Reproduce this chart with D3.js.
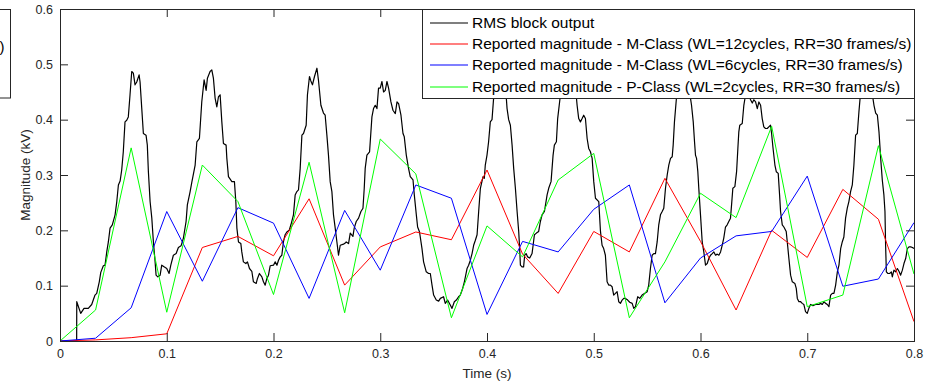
<!DOCTYPE html>
<html>
<head>
<meta charset="utf-8">
<script src="https://cdn.jsdelivr.net/npm/d3@7/dist/d3.min.js"></script>
<style>
  html, body { margin: 0; padding: 0; background: #fff; }
  svg { display: block; }
  text { font-family: "Liberation Sans", Arial, Helvetica, sans-serif; }
</style>
</head>
<body>
<svg id="chart" width="934" height="381"></svg>
<script>
// ---- data -------------------------------------------------------------
// Time axis and value axis ticks
const xTicks = [0, 0.1, 0.2, 0.3, 0.4, 0.5, 0.6, 0.7, 0.8];
const xTickLabels = ["0", "0.1", "0.2", "0.3", "0.4", "0.5", "0.6", "0.7", "0.8"];
const yTicks = [0, 0.1, 0.2, 0.3, 0.4, 0.5, 0.6];
const yTickLabels = ["0", "0.1", "0.2", "0.3", "0.4", "0.5", "0.6"];

// Reporting instants (30 frames/s)
const reportTime = [0, 1/30, 2/30, 3/30, 4/30, 5/30, 6/30, 7/30, 8/30, 9/30, 10/30, 11/30,
  12/30, 13/30, 14/30, 15/30, 16/30, 17/30, 18/30, 19/30, 20/30, 21/30, 22/30, 23/30, 24/30];

// Reported magnitudes (kV)
const mClass12 = [0, 0.002, 0.006, 0.013, 0.169, 0.189, 0.154, 0.257, 0.101, 0.170, 0.197, 0.183,
  0.309, 0.157, 0.086, 0.198, 0.161, 0.294, 0.180, 0.056, 0.200, 0.151, 0.274, 0.220, 0.035];
const mClass6 = [0, 0.005, 0.060, 0.234, 0.108, 0.241, 0.213, 0.077, 0.236, 0.128, 0.282, 0.258,
  0.048, 0.180, 0.161, 0.238, 0.282, 0.069, 0.150, 0.190, 0.198, 0.298, 0.099, 0.112, 0.214];
const pClass2 = [0, 0.056, 0.349, 0.052, 0.318, 0.252, 0.084, 0.323, 0.051, 0.365, 0.302, 0.042,
  0.208, 0.152, 0.291, 0.339, 0.042, 0.143, 0.267, 0.223, 0.388, 0.062, 0.083, 0.353, 0.121];

// RMS block output [time (s), magnitude (kV)]
const rmsOutput = [
  [0,0],[0.0156,0],[0.0157,0.071],[0.0194,0.050],[0.0225,0.059],[0.0265,0.059],[0.0297,0.066],
  [0.0328,0.083],[0.0344,0.086],[0.0368,0.107],[0.0382,0.124],[0.0406,0.136],[0.0422,0.137],
  [0.0438,0.161],[0.0453,0.179],[0.0469,0.204],[0.0490,0.210],[0.0516,0.228],[0.0532,0.252],
  [0.0547,0.282],[0.0563,0.289],[0.0578,0.309],[0.0593,0.342],[0.0609,0.396],[0.0625,0.399],
  [0.0640,0.405],[0.0656,0.445],[0.0672,0.487],[0.0687,0.484],[0.0703,0.463],[0.0719,0.468],
  [0.0741,0.481],[0.0750,0.468],[0.0766,0.420],[0.0781,0.375],[0.0806,0.372],[0.0818,0.354],
  [0.0828,0.306],[0.0844,0.252],[0.0860,0.222],[0.0875,0.179],[0.0891,0.143],[0.0900,0.119],
  [0.0916,0.116],[0.0938,0.119],[0.0953,0.137],[0.0975,0.134],[0.1000,0.131],[0.1022,0.122],
  [0.1038,0.137],[0.1062,0.155],[0.1088,0.158],[0.1109,0.169],[0.1134,0.172],[0.1156,0.186],
  [0.1181,0.216],[0.1193,0.246],[0.1219,0.270],[0.1235,0.287],[0.1266,0.318],[0.1282,0.360],
  [0.1306,0.366],
  [0.1328,0.432],[0.1350,0.472],[0.1369,0.453],[0.1381,0.475],[0.1406,0.487],[0.1422,0.490],
  [0.1437,0.475],[0.1453,0.439],[0.1469,0.423],[0.1484,0.441],[0.1500,0.445],[0.1516,0.396],
  [0.1531,0.357],[0.1556,0.354],[0.1563,0.330],[0.1578,0.297],[0.1610,0.288],[0.1634,0.288],
  [0.1647,0.252],[0.1657,0.204],[0.1672,0.179],[0.1694,0.176],[0.1703,0.161],[0.1718,0.143],
  [0.1741,0.140],[0.1756,0.143],[0.1775,0.131],[0.1797,0.126],[0.1812,0.107],[0.1838,0.104],
  [0.1850,0.113],[0.1868,0.122],[0.1891,0.116],[0.1906,0.107],[0.1922,0.101],[0.1938,0.113],
  [0.1953,0.119],[0.1969,0.136],[0.2000,0.137],[0.2016,0.143],[0.2032,0.137],[0.2047,0.146],
  [0.2063,0.152],[0.2078,0.155],[0.2093,0.179],[0.2109,0.192],[0.2125,0.197],[0.2147,0.200],
  [0.2163,0.210],[0.2187,0.228],[0.2203,0.264],[0.2219,0.270],[0.2234,0.273],[0.2250,0.312],
  [0.2266,0.372],[0.2281,0.375],[0.2306,0.390],[0.2318,0.445],[0.2337,0.478],[0.2350,0.470],
  [0.2365,0.463],[0.2384,0.478],[0.2407,0.493],[0.2422,0.470],[0.2444,0.426],[0.2468,0.412],
  [0.2484,0.408],[0.2500,0.372],[0.2515,0.336],[0.2531,0.288],[0.2547,0.270],[0.2562,0.228],
  [0.2578,0.204],[0.2594,0.179],[0.2609,0.155],[0.2625,0.173],[0.2656,0.175],[0.2672,0.177],
  [0.2681,0.179],[0.2703,0.176],[0.2719,0.195],[0.2744,0.189],[0.2756,0.204],[0.2775,0.216],
  [0.2797,0.222],[0.2819,0.234],[0.2838,0.240],[0.2850,0.276],[0.2859,0.312],[0.2875,0.336],
  [0.2900,0.342],[0.2922,0.405],[0.2937,0.420],[0.2953,0.426],[0.2969,0.420],[0.2984,0.457],
  [0.3000,0.457],[0.3016,0.469],[0.3031,0.450],[0.3047,0.453],[0.3063,0.469],[0.3078,0.457],
  [0.3100,0.432],[0.3119,0.417],[0.3141,0.411],[0.3157,0.432],[0.3172,0.429],[0.3194,0.408],
  [0.3213,0.375],[0.3225,0.369],[0.3244,0.336],[0.3265,0.312],[0.3281,0.297],[0.3307,0.291],
  [0.3319,0.264],[0.3338,0.228],[0.3350,0.206],[0.3368,0.197],[0.3391,0.167],[0.3406,0.143],
  [0.3431,0.125],[0.3453,0.122],[0.3469,0.122],[0.3485,0.101],[0.3500,0.083],[0.3525,0.074],
  [0.3547,0.072],[0.3563,0.077],[0.3593,0.080],[0.3609,0.068],[0.3631,0.074],[0.3656,0.065],
  [0.3672,0.059],[0.3694,0.071],[0.3713,0.074],[0.3734,0.080],[0.3750,0.083],[0.3772,0.095],
  [0.3788,0.107],[0.3813,0.131],[0.3828,0.137],[0.3844,0.146],[0.3860,0.158],[0.3875,0.173],
  [0.3891,0.182],[0.3907,0.192],[0.3922,0.234],[0.3938,0.276],[0.3963,0.297],[0.3975,0.294],
  [0.3984,0.318],
  [0.4000,0.336],[0.4015,0.360],[0.4031,0.396],[0.4047,0.400],[0.4062,0.439],[0.4088,0.470],
  [0.4111,0.490],[0.4130,0.470],[0.4148,0.480],[0.4172,0.450],[0.4181,0.439],[0.4188,0.420],
  [0.4203,0.400],[0.4219,0.390],[0.4235,0.354],[0.4250,0.312],[0.4266,0.276],[0.4282,0.234],
  [0.4297,0.198],[0.4306,0.167],[0.4313,0.137],[0.4328,0.134],[0.4343,0.134],[0.4353,0.155],
  [0.4366,0.158],[0.4381,0.152],[0.4400,0.150],[0.4422,0.158],[0.4432,0.173],[0.4444,0.192],
  [0.4463,0.195],[0.4484,0.198],[0.4500,0.216],[0.4516,0.228],[0.4538,0.234],[0.4563,0.264],
  [0.4578,0.276],[0.4600,0.288],[0.4619,0.336],[0.4631,0.354],[0.4650,0.360],[0.4662,0.402],
  [0.4688,0.445],[0.4716,0.455],[0.4744,0.440],[0.4772,0.455],[0.4800,0.445],[0.4828,0.450],
  [0.4838,0.439],[0.4844,0.426],[0.4859,0.402],[0.4875,0.396],[0.4891,0.402],[0.4906,0.408],
  [0.4922,0.402],[0.4938,0.366],[0.4953,0.348],[0.4969,0.342],[0.4985,0.330],[0.5000,0.288],
  [0.5016,0.258],[0.5047,0.252],[0.5063,0.198],[0.5078,0.173],[0.5093,0.167],[0.5109,0.155],
  [0.5125,0.107],[0.5140,0.101],[0.5156,0.101],[0.5172,0.098],[0.5187,0.083],[0.5203,0.086],
  [0.5219,0.089],[0.5234,0.071],[0.5250,0.068],[0.5266,0.074],[0.5281,0.077],
  [0.5297,0.077],[0.5318,0.074],[0.5337,0.070],[0.5360,0.068],[0.5375,0.059],[0.5391,0.062],
  [0.5412,0.080],[0.5431,0.077],[0.5453,0.083],[0.5475,0.086],[0.5500,0.089],[0.5515,0.101],
  [0.5531,0.131],[0.5547,0.155],[0.5562,0.158],[0.5578,0.158],[0.5594,0.179],[0.5609,0.210],
  [0.5625,0.228],[0.5641,0.234],[0.5656,0.240],[0.5672,0.276],[0.5688,0.300],[0.5703,0.318],
  [0.5719,0.330],[0.5735,0.333],[0.5744,0.354],[0.5756,0.396],[0.5775,0.440],[0.5794,0.470],
  [0.5813,0.490],[0.5831,0.475],[0.5850,0.485],[0.5869,0.470],[0.5888,0.450],[0.5906,0.439],
  [0.5916,0.426],[0.5932,0.396],[0.5944,0.360],[0.5953,0.336],[0.5963,0.330],[0.5975,0.306],
  [0.5984,0.276],[0.6000,0.228],[0.6016,0.179],[0.6031,0.161],[0.6047,0.137],[0.6063,0.140],
  [0.6078,0.149],[0.6094,0.155],[0.6110,0.158],[0.6125,0.161],[0.6141,0.155],[0.6157,0.157],
  [0.6172,0.155],[0.6188,0.161],[0.6203,0.173],[0.6218,0.186],[0.6234,0.206],[0.6250,0.210],
  [0.6265,0.216],[0.6281,0.222],[0.6291,0.246],[0.6303,0.276],[0.6322,0.279],[0.6338,0.306],
  [0.6350,0.348],[0.6359,0.378],[0.6368,0.390],[0.6391,0.393],[0.6406,0.426],[0.6422,0.445],
  [0.6441,0.450],[0.6469,0.436],[0.6485,0.430],[0.6500,0.436],[0.6516,0.432],[0.6532,0.420],
  [0.6547,0.432],[0.6563,0.426],[0.6578,0.402],[0.6593,0.387],[0.6609,0.384],
  [0.6625,0.384],[0.6640,0.387],[0.6656,0.390],[0.6666,0.375],[0.6678,0.351],[0.6697,0.318],
  [0.6710,0.306],[0.6728,0.303],[0.6741,0.264],[0.6750,0.234],[0.6766,0.210],[0.6781,0.206],
  [0.6803,0.198],[0.6813,0.179],[0.6828,0.149],[0.6844,0.119],[0.6860,0.107],[0.6884,0.104],
  [0.6897,0.095],[0.6907,0.077],[0.6922,0.071],[0.6938,0.071],[0.6953,0.068],[0.6968,0.066],
  [0.6984,0.053],[0.7000,0.050],[0.7015,0.059],[0.7031,0.066],[0.7053,0.064],[0.7078,0.066],
  [0.7109,0.066],[0.7125,0.068],[0.7141,0.066],[0.7156,0.071],[0.7172,0.068],[0.7188,0.066],
  [0.7203,0.062],[0.7219,0.083],[0.7235,0.086],[0.7250,0.086],[0.7266,0.101],[0.7282,0.125],
  [0.7297,0.137],[0.7313,0.167],[0.7328,0.179],[0.7343,0.188],[0.7359,0.222],[0.7375,0.240],
  [0.7390,0.252],[0.7406,0.270],[0.7422,0.282],[0.7437,0.318],[0.7453,0.372],[0.7469,0.375],
  [0.7484,0.414],[0.7500,0.450],[0.7519,0.480],[0.7538,0.490],[0.7556,0.470],[0.7575,0.480],
  [0.7594,0.450],[0.7615,0.439],[0.7625,0.426],[0.7641,0.412],[0.7657,0.408],[0.7672,0.378],
  [0.7688,0.330],[0.7703,0.291],[0.7718,0.264],[0.7728,0.234],[0.7734,0.173],[0.7741,0.125],
  [0.7756,0.122],[0.7772,0.122],[0.7788,0.125],[0.7797,0.116],[0.7812,0.128],[0.7828,0.125],
  [0.7844,0.131],[0.7859,0.126],[0.7875,0.119],[0.7891,0.128],[0.7906,0.140],[0.7922,0.149],
  [0.7938,0.167],[0.7953,0.170],[0.7969,0.170],[0.7985,0.169],[0.8000,0.167]
];

const legendLabels = [
  "RMS block output",
  "Reported magnitude - M-Class (WL=12cycles, RR=30 frames/s)",
  "Reported magnitude - M-Class (WL=6cycles, RR=30 frames/s)",
  "Reported magnitude - P-Class (WL=2cycles, RR=30 frames/s)"
];
const seriesColors = ["#000000", "#ff0000", "#0000ff", "#00ff00"];

// ---- layout -----------------------------------------------------------
const plot = { left: 60, right: 914, top: 9, bottom: 341 };
const axisColor = "#262626";
const tickLen = 8;

const svg = d3.select("#chart");

const x = d3.scaleLinear().domain([0, 0.8]).range([plot.left, plot.right]);
const y = d3.scaleLinear().domain([0, 0.6]).range([plot.bottom, plot.top]);

// Clipped legend of a neighbouring axes at the far left
svg.append("rect")
  .attr("x", -40.5).attr("y", 9.5).attr("width", 51).attr("height", 88.5)
  .attr("fill", "#fff").attr("stroke", axisColor).attr("stroke-width", 1);
svg.append("text")
  .attr("x", 4.5).attr("y", 47).attr("dy", "0.35em")
  .attr("text-anchor", "end").attr("font-size", 15).attr("fill", "#000")
  .text(")");

// clip region for the data
svg.append("defs").append("clipPath").attr("id", "plotClip")
  .append("rect")
  .attr("x", plot.left).attr("y", plot.top)
  .attr("width", plot.right - plot.left).attr("height", plot.bottom - plot.top);

// ---- series -----------------------------------------------------------
const line = d3.line().x(d => x(d[0])).y(d => y(d[1]));
const seriesData = [
  rmsOutput,
  reportTime.map((t, i) => [t, mClass12[i]]),
  reportTime.map((t, i) => [t, mClass6[i]]),
  reportTime.map((t, i) => [t, pClass2[i]])
];

const gLines = svg.append("g").attr("clip-path", "url(#plotClip)");
seriesData.forEach((data, i) => {
  gLines.append("path")
    .datum(data)
    .attr("fill", "none")
    .attr("stroke", seriesColors[i])
    .attr("stroke-width", i === 0 ? 1.2 : 1)
    .attr("stroke-linejoin", "round")
    .attr("d", line);
});

// ---- axes (boxed, ticks pointing inward) ------------------------------
function styleAxis(g) {
  g.selectAll("path.domain").attr("stroke", axisColor).attr("stroke-width", 1);
  g.selectAll(".tick line").attr("stroke", axisColor).attr("stroke-width", 1);
  g.selectAll(".tick text").attr("fill", axisColor)
    .attr("font-family", '"Liberation Sans", Arial, Helvetica, sans-serif')
    .attr("font-size", 12.5);
}

svg.append("g")
  .attr("transform", `translate(0,${plot.bottom})`)
  .call(d3.axisBottom(x).tickValues(xTicks).tickFormat((d, i) => xTickLabels[i])
    .tickSizeInner(-tickLen).tickSizeOuter(0).tickPadding(8))
  .call(styleAxis);

svg.append("g")
  .attr("transform", `translate(0,${plot.top})`)
  .call(d3.axisTop(x).tickValues(xTicks).tickFormat("")
    .tickSizeInner(-tickLen).tickSizeOuter(0))
  .call(styleAxis);

svg.append("g")
  .attr("transform", `translate(${plot.left},0)`)
  .call(d3.axisLeft(y).tickValues(yTicks).tickFormat((d, i) => yTickLabels[i])
    .tickSizeInner(-tickLen).tickSizeOuter(0).tickPadding(7))
  .call(styleAxis);

svg.append("g")
  .attr("transform", `translate(${plot.right},0)`)
  .call(d3.axisRight(y).tickValues(yTicks).tickFormat("")
    .tickSizeInner(-tickLen).tickSizeOuter(0))
  .call(styleAxis);

svg.selectAll(".domain").attr("shape-rendering", "crispEdges");

// axis titles
svg.append("text")
  .attr("x", (plot.left + plot.right) / 2).attr("y", 378)
  .attr("text-anchor", "middle").attr("font-size", 13.5).attr("fill", axisColor)
  .text("Time (s)");

svg.append("text")
  .attr("transform", `translate(25,${(plot.top + plot.bottom) / 2}) rotate(-90)`)
  .attr("dy", "0.35em")
  .attr("text-anchor", "middle").attr("font-size", 13.5).attr("fill", axisColor)
  .text("Magnitude (kV)");

// ---- legend -----------------------------------------------------------
const legend = svg.append("g");
legend.append("rect")
  .attr("x", 422.5).attr("y", 9.5).attr("width", 492).attr("height", 89)
  .attr("fill", "#fff").attr("stroke", axisColor).attr("stroke-width", 1);

// sample strokes sit on whole-pixel rows so they antialias over two rows
const rowY = [23, 44, 65, 87];
legendLabels.forEach((label, i) => {
  legend.append("line")
    .attr("x1", 430).attr("x2", 468)
    .attr("y1", rowY[i]).attr("y2", rowY[i])
    .attr("stroke", seriesColors[i]).attr("stroke-width", 1.2);
  legend.append("text")
    .attr("x", 472).attr("y", rowY[i]).attr("dy", "0.35em")
    .attr("font-size", 15.5).attr("fill", "#000")
    .text(label);
});
</script>
</body>
</html>
